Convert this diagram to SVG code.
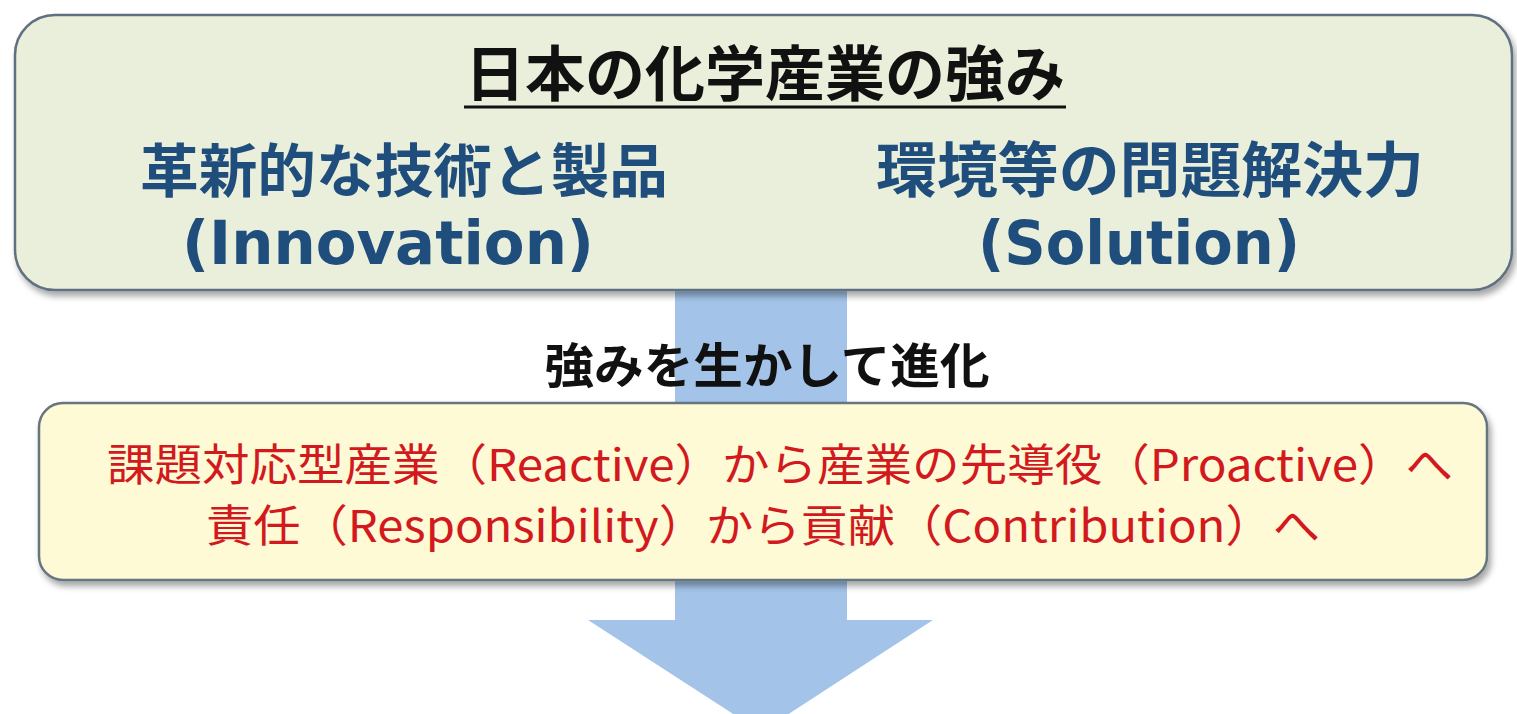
<svg xmlns="http://www.w3.org/2000/svg" width="1517" height="714" viewBox="0 0 1517 714">
<defs>
<filter id="sh" x="-5%" y="-10%" width="110%" height="125%">
<feDropShadow dx="3" dy="5" stdDeviation="3" flood-color="#000" flood-opacity="0.35"/>
</filter>
</defs>
<style>
.jp{font-family:"Noto Sans CJK JP","Noto Sans CJK SC",sans-serif;}
.b{font-weight:bold;}
.navy{fill:#1f4e7d;}
.red{fill:#d2191e;font-weight:normal;}
.lat{font-family:"DejaVu Sans","Noto Sans CJK JP",sans-serif;font-weight:bold;}
</style>
<rect width="1517" height="714" fill="#ffffff"/>
<g id="connectors">
<path id="arrow" d="M675 285 L847 285 L847 620 L933 620 L761 732 L588 620 L675 620 Z" fill="#a3c4e8"/>
</g>
<g id="strengths">
<rect x="15" y="15" width="1497" height="275" rx="40" ry="40" fill="#e9efda" stroke="#5f6f80" stroke-width="2.5" filter="url(#sh)"/>
<text class="jp b" x="765" y="96" font-size="60" text-anchor="middle" fill="#111" textLength="600" lengthAdjust="spacingAndGlyphs">日本の化学産業の強み</text>
<line x1="464" y1="107" x2="1066" y2="107" stroke="#111" stroke-width="3"/>
<text class="jp b navy" x="404" y="192" font-size="58" text-anchor="middle" textLength="528" lengthAdjust="spacingAndGlyphs">革新的な技術と製品</text>
<text class="lat navy" x="388" y="264" font-size="60" text-anchor="middle" textLength="412" lengthAdjust="spacingAndGlyphs">(Innovation)</text>
<text class="jp b navy" x="1150" y="192" font-size="60" text-anchor="middle" textLength="548" lengthAdjust="spacingAndGlyphs">環境等の問題解決力</text>
<text class="lat navy" x="1139" y="264" font-size="60" text-anchor="middle" textLength="322" lengthAdjust="spacingAndGlyphs">(Solution)</text>
</g>
<g id="evolve-label">
<text class="jp b" x="767" y="383" font-size="48" text-anchor="middle" fill="#111" textLength="445" lengthAdjust="spacingAndGlyphs">強みを生かして進化</text>
</g>
<g id="shift">
<rect x="39" y="403" width="1448" height="177" rx="24" ry="24" fill="#fefad6" stroke="#66757f" stroke-width="2.5" filter="url(#sh)"/>
<text class="jp red" x="780" y="481" font-size="44" text-anchor="middle" textLength="1346" lengthAdjust="spacingAndGlyphs">課題対応型産業（Reactive）から産業の先導役（Proactive）へ</text>
<text class="jp red" x="763" y="542" font-size="44" text-anchor="middle" textLength="1114" lengthAdjust="spacingAndGlyphs">責任（Responsibility）から貢献（Contribution）へ</text>
</g>
</svg>
